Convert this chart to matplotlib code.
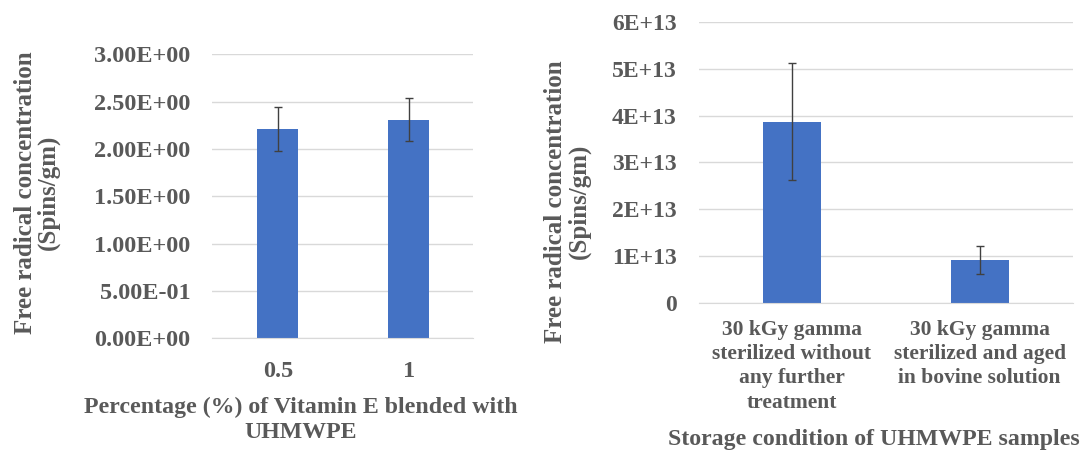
import matplotlib
matplotlib.use("Agg")
import matplotlib.pyplot as plt

# Left panel: vitamin E blended UHMWPE
vite_labels = ["0.5", "1"]
vite_values = [2.21, 2.31]
vite_errors = [0.235, 0.225]
vite_ticks = [0.0, 0.5, 1.0, 1.5, 2.0, 2.5, 3.0]
vite_ticklabels = ["0.00E+00", "5.00E-01", "1.00E+00", "1.50E+00",
                   "2.00E+00", "2.50E+00", "3.00E+00"]

# Right panel: storage condition
stor_labels = ["30 kGy gamma\nsterilized without\nany further\ntreatment",
               "30 kGy gamma\nsterilized and aged\nin bovine solution"]
stor_values = [3.87e13, 0.92e13]
stor_errors = [1.24e13, 0.29e13]
stor_ticks = [0, 1e13, 2e13, 3e13, 4e13, 5e13, 6e13]
stor_ticklabels = ["0", "1E+13", "2E+13", "3E+13", "4E+13", "5E+13", "6E+13"]

plt.rcParams['font.family'] = ['Liberation Serif', 'DejaVu Serif']
plt.rcParams['font.weight'] = 'bold'
txt = '#595959'
bar_color = '#4472C4'
grid_color = '#d9d9d9'

fig = plt.figure(figsize=(10.86, 4.53), dpi=100)
ax1 = fig.add_axes([0.1949, 0.253, 0.2409, 0.6272])
ax2 = fig.add_axes([0.6436, 0.3305, 0.3444, 0.6216])


def style(ax, ticks, ticklabels, ylabel):
    ax.set_yticks(ticks)
    ax.set_yticklabels(ticklabels)
    ax.set_ylim(ticks[0], ticks[-1])
    ax.grid(axis='y', color=grid_color, linewidth=1)
    ax.set_axisbelow(True)
    for s in ['top', 'right', 'left']:
        ax.spines[s].set_visible(False)
    ax.spines['bottom'].set_color(grid_color)
    ax.tick_params(axis='both', length=0, colors=txt, labelsize=17.5)
    ax.tick_params(axis='y', pad=15.5)
    ax.set_ylabel(ylabel, color=txt, fontsize=18, fontweight='bold',
                  linespacing=1.0)


x1 = range(len(vite_labels))
ax1.bar(x1, vite_values, width=0.313, color=bar_color, zorder=2)
ax1.errorbar(x1, vite_values, yerr=vite_errors, fmt='none', ecolor='#404040',
             elinewidth=1, capsize=3, capthick=1, zorder=3)
ax1.set_xlim(-0.505, 1.494)
ax1.set_xticks(list(x1))
ax1.set_xticklabels(vite_labels)
style(ax1, vite_ticks, vite_ticklabels,
      "Free radical concentration\n(Spins/gm)")
ax1.tick_params(axis='x', pad=16)
ax1.yaxis.set_label_coords(-0.58, 0.5135)
ax1.set_xlabel("Percentage (%) of Vitamin E blended with\nUHMWPE",
               color=txt, fontsize=17.2, fontweight='bold', linespacing=1.25)
ax1.xaxis.set_label_coords(0.34, -0.205)

x2 = range(len(stor_labels))
ax2.bar(x2, stor_values, width=0.311, color=bar_color, zorder=2)
ax2.errorbar(x2, stor_values, yerr=stor_errors, fmt='none', ecolor='#404040',
             elinewidth=1, capsize=3, capthick=1, zorder=3)
ax2.set_xlim(-0.494, 1.496)
ax2.set_xticks(list(x2))
ax2.set_xticklabels(stor_labels, linespacing=1.28)
style(ax2, stor_ticks, stor_ticklabels,
      "Free radical concentration\n(Spins/gm)")
ax2.tick_params(axis='y', labelsize=17, pad=16)
ax2.tick_params(axis='x', labelsize=15.5, pad=12)
ax2.yaxis.set_label_coords(-0.2896, 0.3608)
ax2.set_xlabel("Storage condition of UHMWPE samples",
               color=txt, fontsize=17.2, fontweight='bold')
ax2.xaxis.set_label_coords(0.4666, -0.446)

fig.savefig("out.png", dpi=100)
